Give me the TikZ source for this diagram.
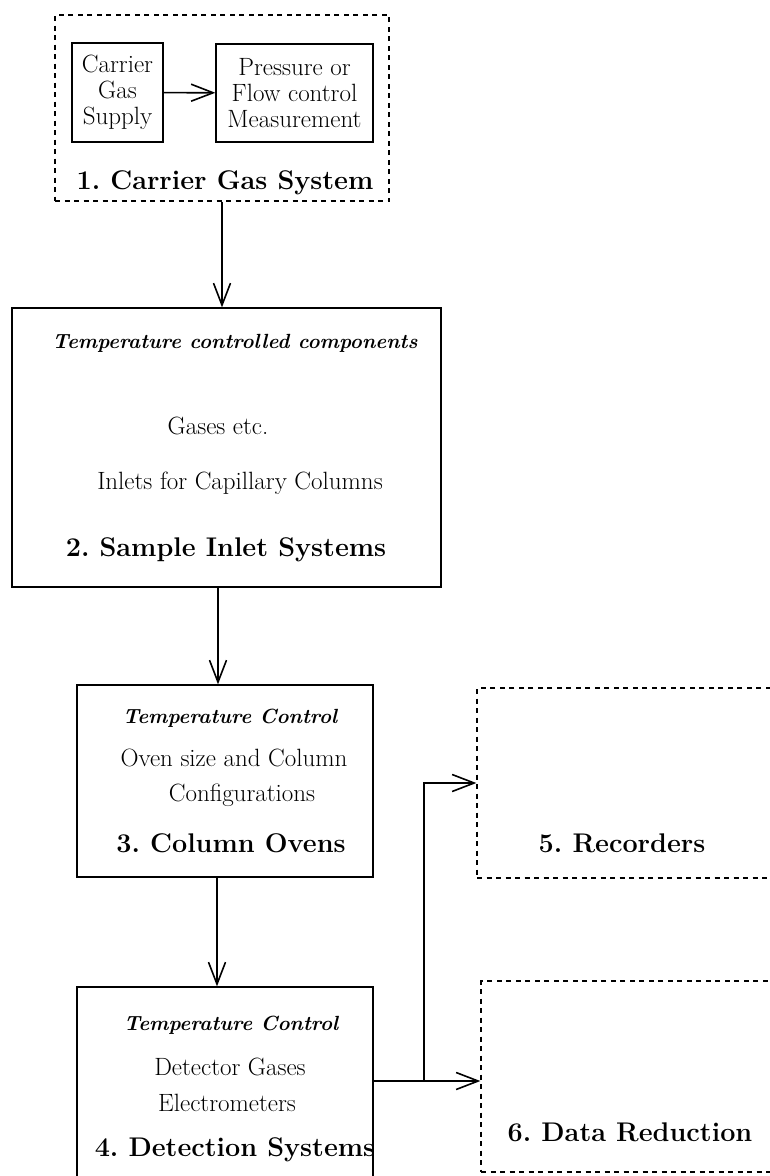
\documentclass[tikz,border=0pt]{standalone}
\usetikzlibrary{arrows.meta}

\tikzset{
	solidbox/.style = {draw = black, line width = 1.3pt, inner sep = 0pt},
	dashbox/.style = {draw = black, line width = 1.3pt,
					  dash pattern = on 5pt off 4.5pt, inner sep = 0pt},
	headtxt/.style = {font = \fontsize{27}{30}\selectfont\bfseries, inner sep = 0pt},
	tnote/.style = {font = \fontsize{20.5}{24}\selectfont\bfseries\itshape, inner sep = 0pt},
	bodytxt/.style = {font = \fontsize{25}{26}\selectfont, align = center, inner sep = 0pt},
	flow/.style = {->, line width = 1.6pt}
}

\begin{document}
\frenchspacing
\begin{tikzpicture}[x = 1pt, y = -1pt,
					>={Straight Barb[length = 22pt, width = 17pt]}]

	\useasboundingbox (0,0) rectangle (770,1176);
	\clip (0,0) rectangle (770,1176);

	% 1. carrier gas system
	\draw (222,108) node[dashbox, minimum width = 334pt,
					 minimum height = 186pt] (gasbox) {};
	\draw (117.5,92.5) node[solidbox, bodytxt, minimum width = 91pt,
					 minimum height = 99pt] (supply) {Carrier\\Gas\\Supply};
	\draw (294.5,93) node[solidbox, bodytxt, minimum width = 157pt,
					 minimum height = 98pt] (flowctl) {Pressure or\\Flow control\\Measurement};
	\draw (225,183) node[headtxt] (gastitle) {1. Carrier Gas System};

	% 2. sample inlet
	\draw (226.5,447.5) node[solidbox, minimum width = 429pt,
					 minimum height = 279pt] (inletbox) {};
	\draw (235,343) node[tnote] (inletnote) {Temperature controlled components};
	\draw (218,426) node[bodytxt] (gases) {Gases etc.};
	\draw (240,483) node[bodytxt] (capinlet) {Inlets for Capillary Columns};
	\draw (226,550) node[headtxt] (inlettitle) {2. Sample Inlet Systems};

	% 3. column ovens
	\draw (225,781) node[solidbox, minimum width = 296pt,
					 minimum height = 192pt] (ovenbox) {};
	\draw (230,718) node[tnote] (ovennote) {Temperature Control};
	\draw (234,758) node[bodytxt] (ovensize) {Oven size and Column};
	\draw (242,795) node[bodytxt] (ovenconf) {Configurations};
	\draw (231,843) node[headtxt] (oventitle) {3. Column Ovens};

	% 4. detection
	\draw (225,1088.5) node[solidbox, minimum width = 296pt,
					 minimum height = 203pt] (detbox) {};
	\draw (231,1025) node[tnote] (detnote) {Temperature Control};
	\draw (230,1067) node[bodytxt] (detgas) {Detector Gases};
	\draw (227,1103) node[bodytxt] (detelec) {Electrometers};
	\draw (235,1150) node[headtxt] (dettitle) {4. Detection Systems};

	% 5. and 6.
	\draw (633.5,783) node[dashbox, minimum width = 313pt,
					 minimum height = 190pt] (recbox) {};
	\draw (622,843) node[headtxt] (rectitle) {5. Recorders};
	\draw (635.5,1076.5) node[dashbox, minimum width = 309pt,
					 minimum height = 191pt] (databox) {};
	\draw (630,1132) node[headtxt] (datatitle) {6. Data Reduction};

	\draw[flow] (supply) -- (flowctl);
	\draw[flow] (gasbox.south) -- (gasbox.south |- inletbox.north);
	\draw[flow] ([xshift = -8.5pt]inletbox.south) -- ([xshift = -8.5pt]inletbox.south |- ovenbox.north);
	\draw[flow] ([xshift = -8pt]ovenbox.south) -- ([xshift = -8pt]ovenbox.south |- detbox.north);

	\coordinate (split) at (424,1081);
	\draw[flow] (split -| detbox.east) -- (split -| databox.west);
	\draw[flow] (split) |- (recbox.west);
\end{tikzpicture}
\end{document}
